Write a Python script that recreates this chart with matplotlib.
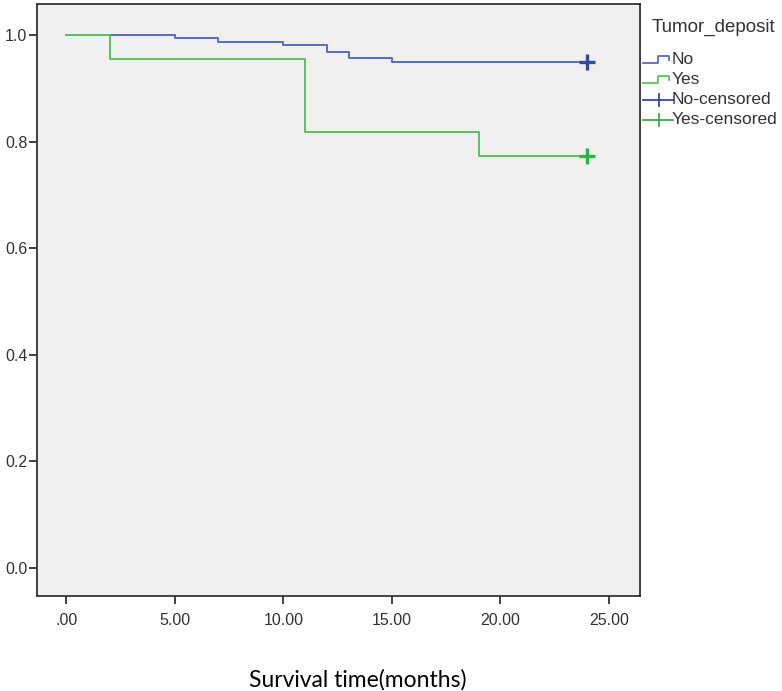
import matplotlib
matplotlib.use("Agg")
import matplotlib.pyplot as plt
from matplotlib.lines import Line2D

# Kaplan-Meier step data (time in months, survival)
no_times = [0, 5, 7, 10, 12, 13, 15, 24]
no_surv = [1.0, 0.994, 0.987, 0.981, 0.968, 0.956, 0.950, 0.950]
yes_times = [0, 2, 11, 19, 24]
yes_surv = [1.0, 0.955, 0.818, 0.773, 0.773]
no_censor_t = [24]
no_censor_s = [0.950]
yes_censor_t = [24]
yes_censor_s = [0.773]

x_ticks = [0, 5, 10, 15, 20, 25]
x_ticklabels = [".00", "5.00", "10.00", "15.00", "20.00", "25.00"]
y_ticks = [0.0, 0.2, 0.4, 0.6, 0.8, 1.0]
y_ticklabels = ["0.0", "0.2", "0.4", "0.6", "0.8", "1.0"]

blue = "#5a6cb8"
blue_dark = "#34489e"
green = "#5cc060"
green_dark = "#34b048"

plt.rcParams['font.family'] = ['Liberation Sans', 'DejaVu Sans']

W, H = 782, 691
fig = plt.figure(figsize=(W / 100, H / 100), dpi=100)
fig.patch.set_facecolor("white")

left, right, top, bottom = 37, 640, 4, 596
ax = fig.add_axes([left / W, 1 - bottom / H, (right - left) / W, (bottom - top) / H])
ax.set_facecolor("#f0f0f0")

ax.step(no_times, no_surv, where="post", color=blue, lw=1.4, zorder=2)
ax.step(yes_times, yes_surv, where="post", color=green, lw=1.4, zorder=3)
ax.plot(no_censor_t, no_censor_s, ls="none", marker="+", ms=11, mew=2.4, color=blue_dark, zorder=4)
ax.plot(yes_censor_t, yes_censor_s, ls="none", marker="+", ms=11, mew=2.4, color=green_dark, zorder=4)

# axis limits derived from pixel positions of ticks (x: 0 at 66.4px, 21.7px/month; y: 1.0 at 35px, 0 at 568px)
x0px, xs = 66.4, 21.7
ax.set_xlim((left - x0px) / xs, (right - x0px) / xs)
y1px, y0px = 35, 568
ys = (y0px - y1px)
ax.set_ylim(-(bottom - y0px) / ys, 1 + (y1px - top) / ys)

ax.set_xticks(x_ticks)
ax.set_xticklabels(x_ticklabels)
ax.set_yticks(y_ticks)
ax.set_yticklabels(y_ticklabels)
ax.tick_params(axis="both", direction="out", length=6, width=1.3, color="#333333",
               labelsize=11.5, labelcolor="#333333", pad=1)
ax.tick_params(axis="x", pad=6)
for s in ax.spines.values():
    s.set_color("#333333")
    s.set_linewidth(1.3)

fig.text(358 / W, 1 - 680 / H, "Survival time(months)", ha="center", va="center",
         fontsize=16.5, family="Lato", color="black")

# legend (manual, figure pixel coordinates)
def fx(px):
    return px / W

def fy(py):
    return 1 - py / H

fig.text(fx(652), fy(27), "Tumor_deposit", ha="left", va="center", fontsize=13.5, color="#333333")
rows = [("No", blue, "step", 60), ("Yes", green, "step", 80),
        ("No-censored", blue_dark, "cens", 100), ("Yes-censored", green_dark, "cens", 120)]
for label, col, kind, py in rows:
    if kind == "step":
        xs_ = [643, 658, 658, 669, 669]
        ys_ = [py + 3, py + 3, py - 4, py - 4, py]
        fig.add_artist(Line2D([fx(v) for v in xs_], [fy(v) for v in ys_], color=col, lw=1.3))
    else:
        fig.add_artist(Line2D([fx(643), fx(673)], [fy(py), fy(py)], color=col, lw=1.3))
        fig.add_artist(Line2D([fx(659), fx(659)], [fy(py - 6), fy(py + 6)], color=col, lw=1.3))
    fig.text(fx(672), fy(py), label, ha="left", va="center", fontsize=12.5, color="#333333")

fig.savefig("out.png", dpi=100)
